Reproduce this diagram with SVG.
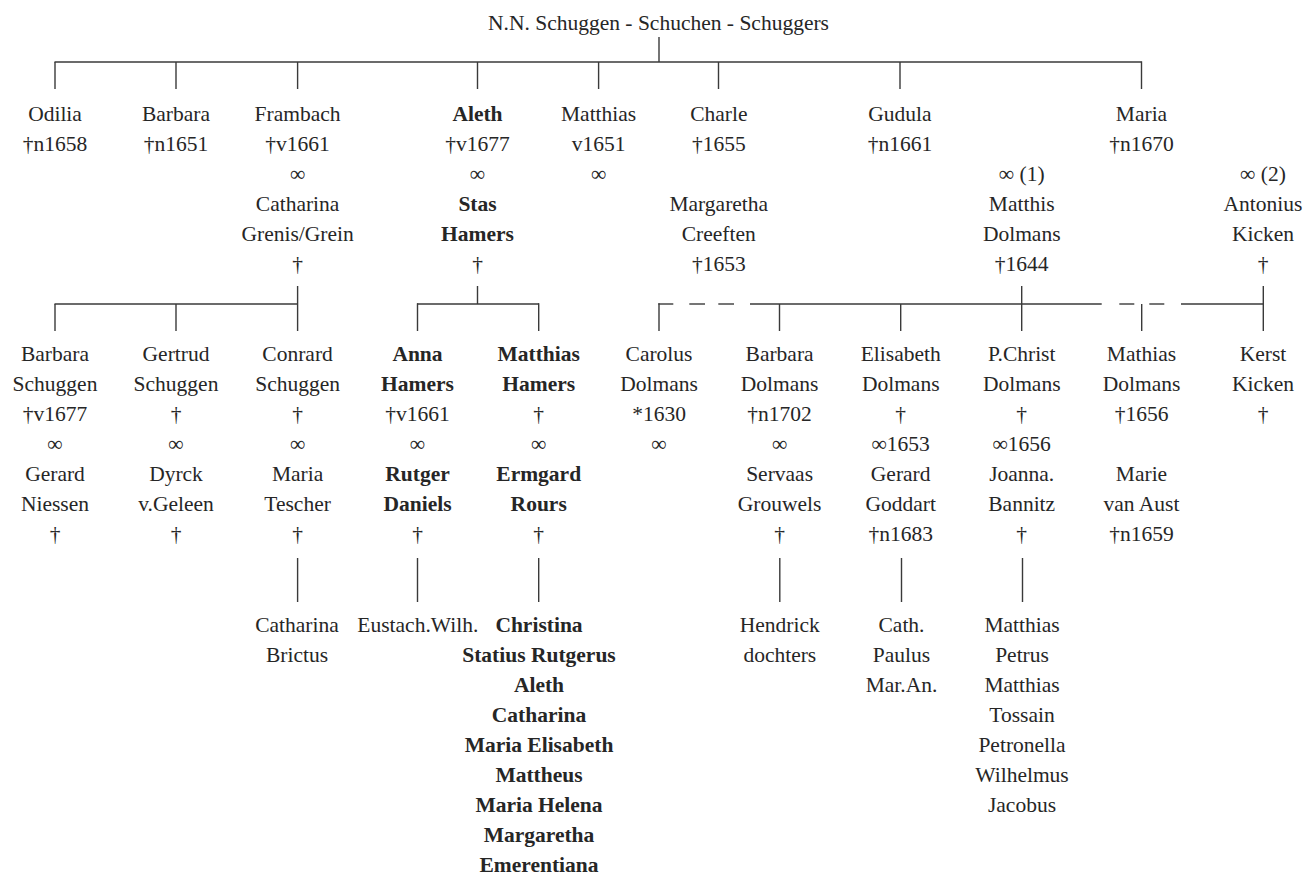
<svg xmlns="http://www.w3.org/2000/svg" width="1316" height="876" viewBox="0 0 1316 876">
<style>
text{font-size:21.5px;fill:#262626;text-anchor:middle}
.b{font-weight:bold}
#connectors line{stroke:#3a3a3a;stroke-width:1.4;fill:none}
</style>
<rect width="1316" height="876" fill="#fff"/>
<g id="connectors">
<line x1="659" y1="37" x2="659" y2="62"/>
<line x1="54.5" y1="62" x2="1141.5" y2="62"/>
<line x1="55" y1="62" x2="55" y2="89"/>
<line x1="176" y1="62" x2="176" y2="89"/>
<line x1="297.6" y1="62" x2="297.6" y2="89"/>
<line x1="477.5" y1="62" x2="477.5" y2="89"/>
<line x1="598.6" y1="62" x2="598.6" y2="89"/>
<line x1="718.5" y1="62" x2="718.5" y2="89"/>
<line x1="900" y1="62" x2="900" y2="89"/>
<line x1="1141.5" y1="61.3" x2="1141.5" y2="89"/>
<line x1="297.6" y1="286" x2="297.6" y2="331"/>
<line x1="54.5" y1="304" x2="297.6" y2="304"/>
<line x1="55" y1="304" x2="55" y2="331"/>
<line x1="176" y1="304" x2="176" y2="331"/>
<line x1="477.5" y1="286" x2="477.5" y2="304"/>
<line x1="417" y1="304" x2="539" y2="304"/>
<line x1="417.5" y1="303.3" x2="417.5" y2="331"/>
<line x1="538.7" y1="303.3" x2="538.7" y2="331"/>
<line x1="1021.7" y1="286" x2="1021.7" y2="331"/>
<line x1="1263.3" y1="286" x2="1263.3" y2="331"/>
<line x1="659" y1="303.3" x2="659" y2="331"/>
<line x1="658.3" y1="304" x2="673.3" y2="304"/>
<line x1="689.3" y1="304" x2="705" y2="304"/>
<line x1="718.3" y1="304" x2="734" y2="304"/>
<line x1="750" y1="304" x2="1101.7" y2="304"/>
<line x1="1119.3" y1="304" x2="1134.3" y2="304"/>
<line x1="1149.3" y1="304" x2="1164.3" y2="304"/>
<line x1="1181" y1="304" x2="1263.3" y2="304"/>
<line x1="779.5" y1="304" x2="779.5" y2="331"/>
<line x1="900.7" y1="304" x2="900.7" y2="331"/>
<line x1="1141.7" y1="304" x2="1141.7" y2="331"/>
<line x1="297.6" y1="558" x2="297.6" y2="602"/>
<line x1="417.5" y1="558" x2="417.5" y2="602"/>
<line x1="538.7" y1="558" x2="538.7" y2="602"/>
<line x1="779.8" y1="558" x2="779.8" y2="602"/>
<line x1="901.5" y1="558" x2="901.5" y2="602"/>
<line x1="1022.5" y1="558" x2="1022.5" y2="602"/>
</g>
<g font-family="'Liberation Serif', 'Times New Roman', Times, 'DejaVu Serif', serif">
<g id="root"><text x="658.5" y="30">N.N. Schuggen - Schuchen - Schuggers</text></g>
<g id="odilia"><text x="55" y="121">Odilia</text><text x="55" y="151">†n1658</text></g>
<g id="barbara"><text x="176" y="121">Barbara</text><text x="176" y="151">†n1651</text></g>
<g id="frambach"><text x="297.6" y="121">Frambach</text><text x="297.6" y="151">†v1661</text><text x="297.6" y="181">∞</text><text x="297.6" y="211">Catharina</text><text x="297.6" y="241">Grenis/Grein</text><text x="297.6" y="271">†</text></g>
<g id="aleth"><text class="b" x="477.5" y="121">Aleth</text><text x="477.5" y="151">†v1677</text><text x="477.5" y="181">∞</text><text class="b" x="477.5" y="211">Stas</text><text class="b" x="477.5" y="241">Hamers</text><text x="477.5" y="271">†</text></g>
<g id="matthias"><text x="598.6" y="121">Matthias</text><text x="598.6" y="151">v1651</text><text x="598.6" y="181">∞</text></g>
<g id="charle"><text x="718.8" y="121">Charle</text><text x="718.8" y="151">†1655</text><text x="718.8" y="211">Margaretha</text><text x="718.8" y="241">Creeften</text><text x="718.8" y="271">†1653</text></g>
<g id="gudula"><text x="900" y="121">Gudula</text><text x="900" y="151">†n1661</text></g>
<g id="maria"><text x="1141.5" y="121">Maria</text><text x="1141.5" y="151">†n1670</text></g>
<g id="matthis-dolmans"><text x="1021.7" y="181">∞ (1)</text><text x="1021.7" y="211">Matthis</text><text x="1021.7" y="241">Dolmans</text><text x="1021.7" y="271">†1644</text></g>
<g id="antonius-kicken"><text x="1263" y="181">∞ (2)</text><text x="1263" y="211">Antonius</text><text x="1263" y="241">Kicken</text><text x="1263" y="271">†</text></g>
<g id="barbara-schuggen"><text x="55" y="361">Barbara</text><text x="55" y="391">Schuggen</text><text x="55" y="421">†v1677</text><text x="55" y="451">∞</text><text x="55" y="481">Gerard</text><text x="55" y="511">Niessen</text><text x="55" y="541">†</text></g>
<g id="gertrud-schuggen"><text x="176" y="361">Gertrud</text><text x="176" y="391">Schuggen</text><text x="176" y="421">†</text><text x="176" y="451">∞</text><text x="176" y="481">Dyrck</text><text x="176" y="511">v.Geleen</text><text x="176" y="541">†</text></g>
<g id="conrard-schuggen"><text x="297.6" y="361">Conrard</text><text x="297.6" y="391">Schuggen</text><text x="297.6" y="421">†</text><text x="297.6" y="451">∞</text><text x="297.6" y="481">Maria</text><text x="297.6" y="511">Tescher</text><text x="297.6" y="541">†</text></g>
<g id="anna-hamers"><text class="b" x="417.5" y="361">Anna</text><text class="b" x="417.5" y="391">Hamers</text><text x="417.5" y="421">†v1661</text><text x="417.5" y="451">∞</text><text class="b" x="417.5" y="481">Rutger</text><text class="b" x="417.5" y="511">Daniels</text><text x="417.5" y="541">†</text></g>
<g id="matthias-hamers"><text class="b" x="538.7" y="361">Matthias</text><text class="b" x="538.7" y="391">Hamers</text><text x="538.7" y="421">†</text><text x="538.7" y="451">∞</text><text class="b" x="538.7" y="481">Ermgard</text><text class="b" x="538.7" y="511">Rours</text><text x="538.7" y="541">†</text></g>
<g id="carolus-dolmans"><text x="659" y="361">Carolus</text><text x="659" y="391">Dolmans</text><text x="659" y="421">*1630</text><text x="659" y="451">∞</text></g>
<g id="barbara-dolmans"><text x="779.6" y="361">Barbara</text><text x="779.6" y="391">Dolmans</text><text x="779.6" y="421">†n1702</text><text x="779.6" y="451">∞</text><text x="779.6" y="481">Servaas</text><text x="779.6" y="511">Grouwels</text><text x="779.6" y="541">†</text></g>
<g id="elisabeth-dolmans"><text x="900.7" y="361">Elisabeth</text><text x="900.7" y="391">Dolmans</text><text x="900.7" y="421">†</text><text x="900.7" y="451">∞1653</text><text x="900.7" y="481">Gerard</text><text x="900.7" y="511">Goddart</text><text x="900.7" y="541">†n1683</text></g>
<g id="pchrist-dolmans"><text x="1021.7" y="361">P.Christ</text><text x="1021.7" y="391">Dolmans</text><text x="1021.7" y="421">†</text><text x="1021.7" y="451">∞1656</text><text x="1021.7" y="481">Joanna.</text><text x="1021.7" y="511">Bannitz</text><text x="1021.7" y="541">†</text></g>
<g id="mathias-dolmans"><text x="1141.5" y="361">Mathias</text><text x="1141.5" y="391">Dolmans</text><text x="1141.5" y="421">†1656</text><text x="1141.5" y="481">Marie</text><text x="1141.5" y="511">van Aust</text><text x="1141.5" y="541">†n1659</text></g>
<g id="kerst-kicken"><text x="1263" y="361">Kerst</text><text x="1263" y="391">Kicken</text><text x="1263" y="421">†</text></g>
<g id="children-conrard"><text x="297" y="632">Catharina</text><text x="297" y="662">Brictus</text></g>
<g id="children-anna"><text x="417.8" y="632">Eustach.Wilh.</text></g>
<g id="children-matthias"><text class="b" x="539" y="632">Christina</text><text class="b" x="539" y="662">Statius Rutgerus</text><text class="b" x="539" y="692">Aleth</text><text class="b" x="539" y="722">Catharina</text><text class="b" x="539" y="752">Maria Elisabeth</text><text class="b" x="539" y="782">Mattheus</text><text class="b" x="539" y="812">Maria Helena</text><text class="b" x="539" y="842">Margaretha</text><text class="b" x="539" y="872">Emerentiana</text></g>
<g id="children-barbara"><text x="779.8" y="632">Hendrick</text><text x="779.8" y="662">dochters</text></g>
<g id="children-elisabeth"><text x="901.5" y="632">Cath.</text><text x="901.5" y="662">Paulus</text><text x="901.5" y="692">Mar.An.</text></g>
<g id="children-pchrist"><text x="1022" y="632">Matthias</text><text x="1022" y="662">Petrus</text><text x="1022" y="692">Matthias</text><text x="1022" y="722">Tossain</text><text x="1022" y="752">Petronella</text><text x="1022" y="782">Wilhelmus</text><text x="1022" y="812">Jacobus</text></g>
</g>
</svg>
